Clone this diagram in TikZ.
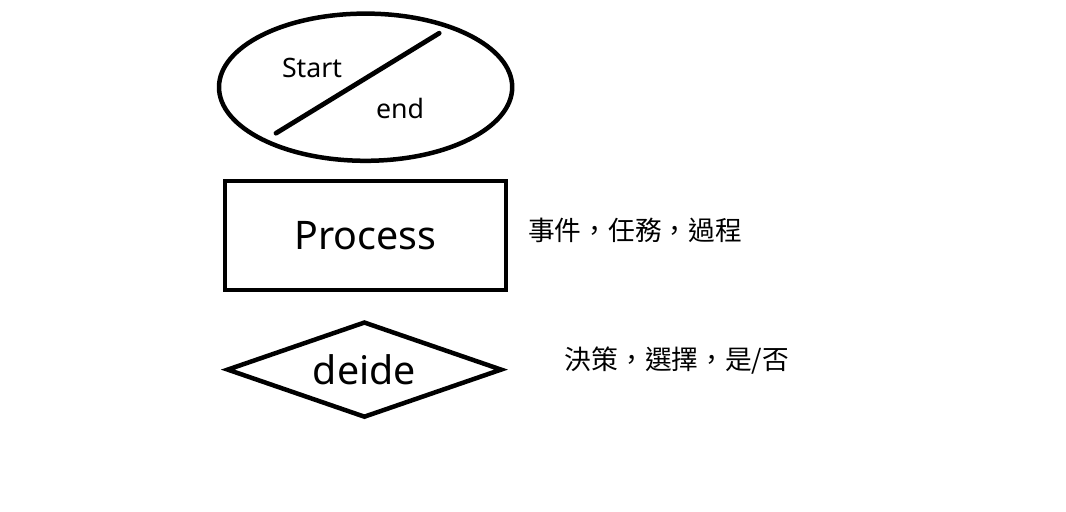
\documentclass[tikz,border=0pt]{standalone}
\usepackage{fontspec}
\setmainfont{Noto Sans}
\newfontfamily\cjk{Noto Sans CJK TC}
\usepackage{tikz}
\usetikzlibrary{shapes.geometric}
\tikzset{
  every shape node/.style={
    draw=black,line width=3.2pt,inner sep=0pt,
  },
}

\begin{document}
\begin{tikzpicture}
		\useasboundingbox (0,0) rectangle (26.65,-12.775);
		\tikzstyle{smalltext}=[font=\fontsize{19}{23}\selectfont]
		\tikzstyle{bigtext}=[font=\fontsize{28}{34}\selectfont]
		\tikzstyle{note}=[smalltext,font=\cjk\fontsize{19}{23}\selectfont,anchor=west]

		\node[every shape node,ellipse,minimum width=7.33cm,minimum height=3.68cm] (terminal) at (9.14,-2.18) {};
		\coordinate (slashlow) at (6.9,-3.33);
		\coordinate (slashhigh) at (10.98,-0.83);
		\node[smalltext] (start) at (7.8,-1.7) {Start};
		\node[smalltext] (end) at (10.0,-2.72) {end};

		\node[every shape node,rectangle,minimum width=7.03cm,minimum height=2.73cm,bigtext] (process) at (9.14,-5.89) {Process};
		\node[every shape node,diamond,aspect=2.9,minimum width=6.88cm,minimum height=2.4cm,bigtext] (decide) at (9.11,-9.24) {deide};

		\node[note] (processnote) at (13.08,-5.75) {事件，任務，過程};
		\node[note] (decidenote) at (14.0,-9.02) {決策，選擇，是/否};

		\draw[line width=3.4pt,line cap=round] (slashlow) -- (slashhigh);

	\end{tikzpicture}
\end{document}
